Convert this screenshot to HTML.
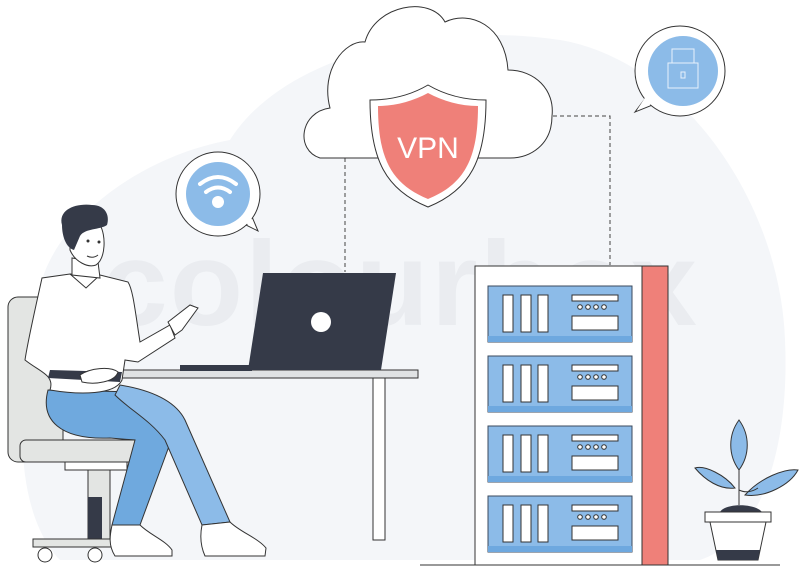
<!DOCTYPE html>
<html><head><meta charset="utf-8"><style>
html,body{margin:0;padding:0;background:#fff;}
svg{display:block;}
</style></head><body>
<svg width="800" height="569" viewBox="0 0 800 569" xmlns="http://www.w3.org/2000/svg">
<path d="M40 330 C20 250 120 160 230 140 C280 60 420 20 560 40 C680 60 780 200 785 340 C790 450 760 540 700 560 L60 560 C20 520 10 420 40 330 Z" fill="#f4f6f9"/>
<text x="400" y="325" text-anchor="middle" font-family="Liberation Sans, sans-serif" font-size="120" font-weight="bold" fill="#e6e9ed" opacity="0.7" letter-spacing="2">colourbox</text>
<g stroke="#444" stroke-width="1" stroke-dasharray="4,3" fill="none">
<path d="M345 158 V272"/>
<path d="M553 116 H610 V265"/>
</g>
<path d="M320 158 C295 150 300 112 330 108 C320 70 345 40 365 42 C375 5 430 -5 445 22 C470 10 505 25 508 70 C535 70 555 90 552 116 C552 145 530 158 510 158 Z" fill="#fff" stroke="#333" stroke-width="1"/>
<path d="M428 85 C445 95 465 100 486 100 C486 160 470 190 428 207 C386 190 370 160 370 100 C391 100 411 95 428 85 Z" fill="#fff" stroke="#333" stroke-width="1"/>
<path d="M428 93 C443 101 460 106 478 106 C478 158 465 184 428 199 C391 184 378 158 378 106 C396 106 413 101 428 93 Z" fill="#ef8079"/>
<text x="428" y="158" text-anchor="middle" font-family="Liberation Sans, sans-serif" font-size="30" fill="#fff">VPN</text>
<!-- lock bubble -->
<path d="M647 96 L635 112 L660 102 Z" fill="#fff" stroke="#333" stroke-width="1"/>
<circle cx="680" cy="71" r="45" fill="#fff" stroke="#333" stroke-width="1"/>
<path d="M648 93 L637 110 L662 100 Z" fill="#fff"/>
<circle cx="683" cy="71" r="35" fill="#8cbbe8"/>
<rect x="668" y="63" width="30" height="25" fill="none" stroke="#e8f1fb" stroke-width="1"/>
<path d="M672 63 V49 H694 V63" fill="none" stroke="#e8f1fb" stroke-width="1"/>
<rect x="681" y="72" width="4" height="6" fill="none" stroke="#e8f1fb"/>
<!-- wifi bubble -->
<path d="M240 222 L258 231 L250 212 Z" fill="#fff" stroke="#333" stroke-width="1"/>
<circle cx="218" cy="194" r="42" fill="#fff" stroke="#333" stroke-width="1"/>
<path d="M238 219 L255 228 L250 214 Z" fill="#fff"/>
<circle cx="218" cy="194" r="32" fill="#8cbbe8"/>
<g fill="none" stroke="#fff" stroke-width="4" stroke-linecap="round">
<path d="M200 184 Q218 170 236 184"/>
<path d="M206 192 Q218 183 230 192"/>
</g>
<circle cx="218" cy="202" r="6" fill="#fff"/>
<!-- server rack -->
<rect x="475" y="266" width="193" height="299" fill="#fff" stroke="#333" stroke-width="1"/>
<rect x="642" y="266" width="26" height="299" fill="#ef8079" stroke="#333" stroke-width="1"/>
<g id="unit">
<rect x="488" y="286" width="144" height="56" fill="#8cbbe8" stroke="#3b4a5c" stroke-width="1"/>
<rect x="488" y="336" width="144" height="6" fill="#6ea8df"/>
<rect x="503" y="295" width="10" height="37" fill="#fff" stroke="#333" stroke-width="1"/>
<rect x="521" y="295" width="10" height="37" fill="#fff" stroke="#333" stroke-width="1"/>
<rect x="538" y="295" width="10" height="37" fill="#fff" stroke="#333" stroke-width="1"/>
<rect x="572" y="295" width="46" height="6" fill="#fff" stroke="#333" stroke-width="1"/>
<g fill="#fff" stroke="#333" stroke-width="1"><circle cx="580" cy="307" r="2.3"/><circle cx="588" cy="307" r="2.3"/><circle cx="596" cy="307" r="2.3"/><circle cx="604" cy="307" r="2.3"/></g>
<rect x="572" y="316" width="46" height="14" fill="#fff" stroke="#333" stroke-width="1"/>
</g>
<use href="#unit" y="70"/>
<use href="#unit" y="140"/>
<use href="#unit" y="210"/>
<line x1="420" y1="565" x2="780" y2="565" stroke="#333" stroke-width="1"/>
<!-- plant -->
<path d="M739 505 V440" stroke="#333" stroke-width="1"/>
<path d="M739 420 C750 435 750 455 739 470 C728 455 728 435 739 420 Z" fill="#8cbbe8" stroke="#333" stroke-width="1"/>
<path d="M735 488 C725 475 705 465 695 468 C705 480 720 490 735 488 Z" fill="#8cbbe8" stroke="#333" stroke-width="1"/>
<path d="M745 495 C760 478 785 468 798 470 C790 485 765 498 745 495 Z" fill="#8cbbe8" stroke="#333" stroke-width="1"/>
<path d="M739 490 C745 493 752 492 758 488" stroke="#333" fill="none"/>
<path d="M720 512 C725 503 755 503 762 512 Z" fill="#353a48"/>
<rect x="705" y="512" width="66" height="10" fill="#fff" stroke="#333" stroke-width="1"/>
<path d="M710 522 H766 L758 560 H718 Z" fill="#fff" stroke="#333" stroke-width="1"/>
<path d="M716 550 H760 L758 560 H718 Z" fill="#353a48"/>
<!-- chair -->
<rect x="8" y="297" width="55" height="165" rx="10" fill="#e3e5e3" stroke="#333" stroke-width="1"/>
<rect x="20" y="440" width="120" height="22" rx="6" fill="#e3e5e3" stroke="#333" stroke-width="1"/>
<rect x="65" y="462" width="62" height="8" fill="#fff" stroke="#333" stroke-width="1"/>
<rect x="88" y="470" width="22" height="70" fill="#e3e5e3" stroke="#333" stroke-width="1"/>
<rect x="88" y="497" width="14" height="43" fill="#353a48"/>
<rect x="33" y="539" width="80" height="8" fill="#e3e5e3" stroke="#333" stroke-width="1"/>
<circle cx="45" cy="555" r="7" fill="#fff" stroke="#333"/>
<circle cx="95" cy="555" r="7" fill="#fff" stroke="#333"/>
<!-- desk -->
<rect x="120" y="370" width="298" height="8" fill="#e0e2e4" stroke="#333" stroke-width="1"/>
<rect x="373" y="378" width="12" height="162" fill="#fff" stroke="#333" stroke-width="1"/>
<!-- laptop -->
<path d="M263 273 H396 L381 370 H248 Z" fill="#353a48"/>
<rect x="180" y="365" width="72" height="6" fill="#353a48"/>
<circle cx="321" cy="322" r="10" fill="#fff"/>
<!-- legs -->
<path d="M48 390 C40 420 60 440 110 438 L135 440 L112 525 L140 525 L175 430 C180 415 165 400 140 392 Z" fill="#6fa9de" stroke="#333" stroke-width="1"/>
<path d="M120 385 C150 390 175 400 185 420 L230 522 L202 525 L165 440 C150 420 130 410 115 395 Z" fill="#8cbbe8" stroke="#333" stroke-width="1"/>
<path d="M112 525 L140 525 C150 535 165 540 172 550 L172 556 H115 C108 545 110 535 112 525 Z" fill="#fff" stroke="#333" stroke-width="1"/>
<path d="M202 525 L230 522 C240 532 258 538 266 548 L265 556 H205 C200 545 200 535 202 525 Z" fill="#fff" stroke="#333" stroke-width="1"/>
<!-- torso -->
<path d="M70 274 L42 278 C35 310 28 340 25 360 C40 372 55 375 50 390 C80 395 115 395 122 380 L125 360 L138 362 L175 338 L170 325 L140 342 C135 310 133 290 128 282 L100 275 Z" fill="#fff" stroke="#333" stroke-width="1"/>
<path d="M48 378 L120 382 L122 372 L50 370 Z" fill="#353a48"/>
<path d="M80 375 C90 368 110 366 118 372 C115 382 95 385 82 382 Z" fill="#fff" stroke="#333" stroke-width="1"/>
<path d="M168 322 L190 305 L198 308 L182 330 L175 335 Z" fill="#fff" stroke="#333" stroke-width="1"/>
<path d="M70 274 L86 288 L100 275" fill="none" stroke="#333"/>
<!-- head -->
<path d="M72 258 L72 275 L100 278 L98 262 Z" fill="#fff" stroke="#333" stroke-width="1"/>
<path d="M70 240 C68 225 80 222 100 225 C106 235 106 258 96 265 C88 268 75 262 70 250 Z" fill="#fff" stroke="#333" stroke-width="1"/>
<path d="M62 225 C58 210 75 203 92 205 C105 205 110 215 107 225 C100 230 85 228 80 236 L74 250 C66 248 62 236 62 225 Z" fill="#353a48"/>
<circle cx="88" cy="241" r="1.5" fill="#333"/><circle cx="99" cy="242" r="1.5" fill="#333"/>
<path d="M87 256 Q93 259 98 255" fill="none" stroke="#333"/>
</svg>
</body></html>
